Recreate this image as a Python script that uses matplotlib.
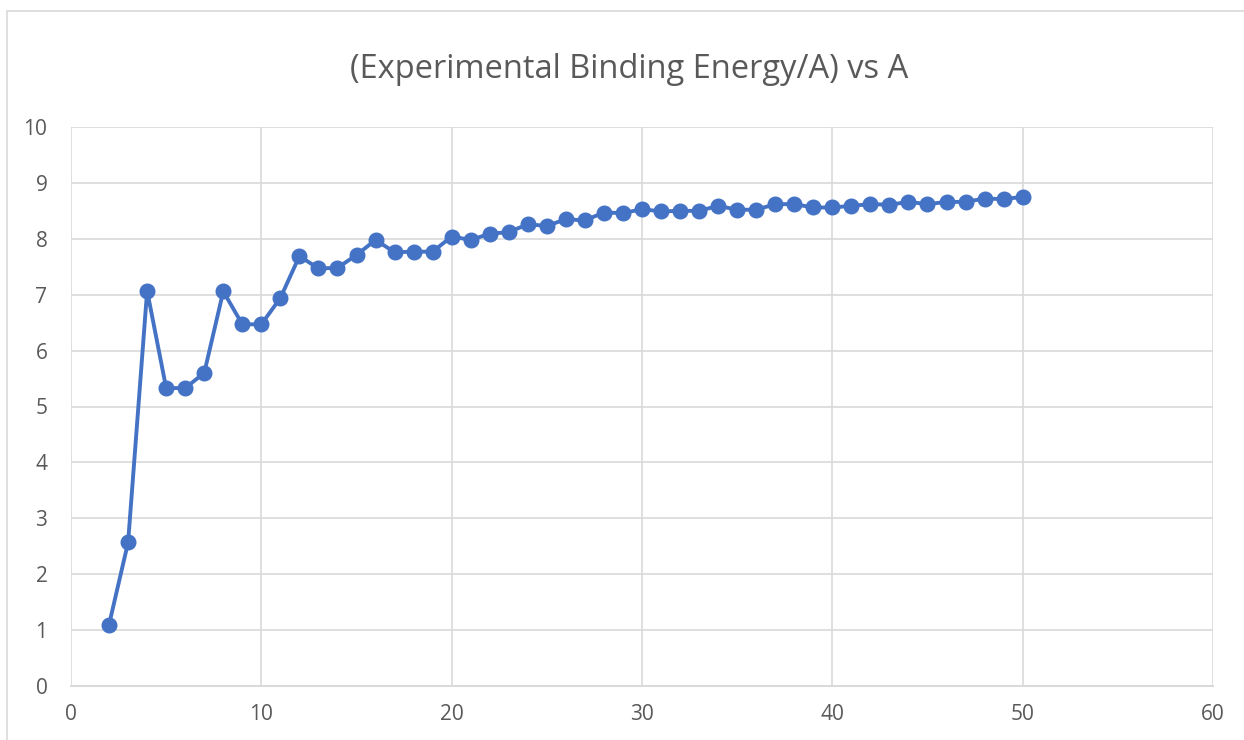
import matplotlib.pyplot as plt
from matplotlib.patches import Rectangle

# mass number A and experimental binding energy per nucleon (MeV)
mass_number = list(range(2, 51))
be_per_a = [1.10, 2.57, 7.07, 5.33, 5.33, 5.60, 7.06, 6.47, 6.47, 6.94,
            7.69, 7.47, 7.48, 7.71, 7.98, 7.76, 7.77, 7.77, 8.04, 7.98,
            8.09, 8.12, 8.26, 8.23, 8.35, 8.33, 8.47, 8.46, 8.53, 8.49,
            8.50, 8.50, 8.59, 8.52, 8.52, 8.62, 8.62, 8.56, 8.56, 8.59,
            8.62, 8.61, 8.66, 8.62, 8.66, 8.66, 8.72, 8.71, 8.75]

x_ticks = [0, 10, 20, 30, 40, 50, 60]
y_ticks = list(range(0, 11))
title = "(Experimental Binding Energy/A) vs A"

plt.rcParams['font.family'] = ['Open Sans', 'DejaVu Sans']
text_col = '#595959'
grid_col = '#D9D9D9'
blue = '#4472C4'

W, H = 1244, 740
fig = plt.figure(figsize=(W / 100, H / 100), dpi=100)

# outer chart border (cut off at right and bottom like the screenshot)
fig.patches.append(Rectangle((7 / W, -0.1), 1.2, 1 - 11 / H + 0.1,
                             transform=fig.transFigure, fill=False,
                             edgecolor=grid_col, linewidth=1.2))

ax = fig.add_axes([71 / W, (H - 686) / H, (1213 - 71) / W, (686 - 127) / H])
ax.plot(mass_number, be_per_a, color=blue, linewidth=2.8,
        marker='o', markersize=10.5, zorder=3, clip_on=False)

ax.set_xlim(0, 60)
ax.set_ylim(0, 10)
ax.set_xticks(x_ticks)
ax.set_yticks(y_ticks)
ax.grid(True, color=grid_col, linewidth=1.2)
ax.set_axisbelow(True)
for s in ax.spines.values():
    s.set_visible(False)
ax.spines['bottom'].set_visible(True)
ax.spines['bottom'].set_color(grid_col)
ax.spines['bottom'].set_linewidth(1.4)
ax.tick_params(length=0, labelsize=15, labelcolor=text_col)
ax.tick_params(axis='x', pad=13)
ax.tick_params(axis='y', pad=17)

fig.text(0.5 * (348 + 911) / W, 1 - 69 / H, title, ha='center', va='center',
         fontsize=23.5, color=text_col)

fig.savefig('out.png', dpi=100)
